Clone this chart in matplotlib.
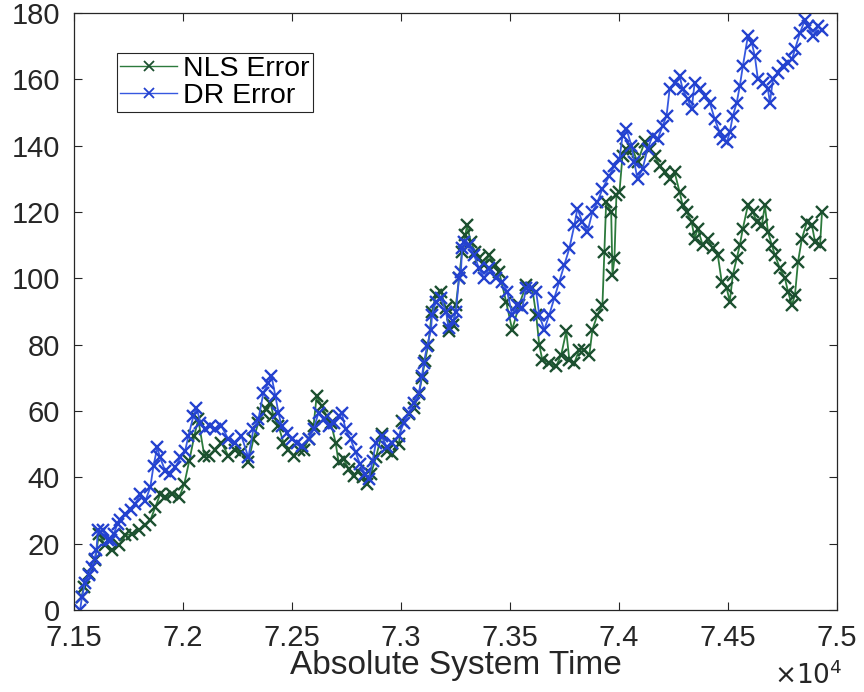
import matplotlib
matplotlib.use('Agg')
import matplotlib.pyplot as plt
import numpy as np

plt.rcParams['font.family'] = ['Liberation Sans', 'DejaVu Sans']

# DR error (blue)
dr_t = [71528, 71537, 71550, 71568, 71582, 71595, 71603, 71610, 71632, 71655,
        71669, 71683, 71700, 71713, 71735, 71760, 71780, 71805, 71828, 71850,
        71865, 71882, 71895, 71918, 71940, 71965, 71988, 72010, 72025, 72048,
        72062, 72080, 72103, 72126, 72148, 72176, 72208, 72240, 72268, 72300,
        72323, 72346, 72369, 72392, 72406, 72424, 72438, 72452, 72475, 72498,
        72521, 72544, 72576, 72599, 72622, 72645, 72668, 72691, 72714, 72728,
        72746, 72769, 72792, 72812, 72835, 72852, 72870, 72885, 72912, 72935,
        72958, 72990, 73013, 73036, 73059, 73082, 73096, 73105, 73119, 73138,
        73142, 73160, 73183, 73206, 73220, 73240, 73252, 73266, 73275, 73280,
        73289, 73312, 73335, 73358, 73381, 73404, 73436, 73464, 73487, 73510,
        73533, 73556, 73574, 73597, 73620, 73634, 73657, 73680, 73703, 73726,
        73749, 73772, 73795, 73809, 73832, 73855, 73878, 73901, 73924, 73956,
        73979, 74002, 74016, 74034, 74057, 74070, 74085, 74108, 74131, 74154,
        74177, 74200, 74218, 74232, 74255, 74278, 74292, 74315, 74333, 74347,
        74370, 74393, 74416, 74439, 74462, 74476, 74494, 74508, 74522, 74540,
        74554, 74568, 74591, 74609, 74623, 74637, 74660, 74683, 74692, 74706,
        74729, 74752, 74775, 74793, 74807, 74830, 74853, 74867, 74890, 74913,
        74931]
dr_err = [0, 4, 8, 10.5, 13, 15.5, 18, 24, 24, 21,
          21, 23, 26, 27, 29, 30, 32, 35, 33, 37,
          43.5, 49, 46, 42, 41, 43, 46, 48, 52.5, 58.5,
          61, 56.5, 54.5, 55.5, 54.5, 55.5, 51.5, 50.5, 52.5, 46,
          54.5, 57.5, 65.5, 68.5, 70.5, 64.5, 59.5, 55.5, 53.5, 51.5,
          50.5, 49.5, 51.5, 54.5, 59.5, 57.5, 55.5, 56.5, 58.5, 59.5,
          54.5, 51.5, 47.5, 44, 41, 39.5, 45, 50.5, 52.5, 49,
          50.5, 52.5, 56.5, 59.5, 62.5, 65.5, 70.5, 74.5, 79.5, 84.5,
          89, 93, 94, 90, 85, 87, 90, 100, 102, 109,
          111, 110, 107, 103, 100, 103, 100, 99, 96, 89,
          92, 91, 97, 97, 96, 89, 84.5, 89, 94, 99,
          104, 109, 116, 121, 117, 114, 120, 123, 127, 131,
          134, 136, 143, 145, 140, 135, 130, 133, 139, 143,
          142, 146, 149, 157, 159, 161, 157, 154, 151, 159,
          157, 155, 153, 148, 144, 142, 141, 144, 149, 153,
          158, 164, 173, 171, 167, 160, 159, 157, 153, 160,
          162, 164, 165, 166, 169, 174, 178, 176, 173, 176,
          175]

# NLS error (green)
nls_t = [71535, 71546, 71569, 71597, 71615, 71642, 71675, 71707, 71735, 71767,
         71799, 71827, 71850, 71873, 71896, 71919, 71951, 71983, 72006, 72029,
         72052, 72070, 72098, 72121, 72148, 72176, 72208, 72240, 72268, 72300,
         72323, 72346, 72369, 72383, 72401, 72415, 72438, 72461, 72484, 72507,
         72530, 72553, 72576, 72599, 72613, 72636, 72659, 72678, 72700, 72714,
         72737, 72760, 72783, 72805, 72828, 72845, 72862, 72885, 72912, 72935,
         72958, 72990, 73004, 73036, 73059, 73082, 73096, 73110, 73125, 73142,
         73160, 73183, 73206, 73220, 73240, 73252, 73266, 73280, 73295, 73303,
         73320, 73340, 73360, 73381, 73404, 73430, 73450, 73482, 73510, 73542,
         73574, 73602, 73620, 73634, 73648, 73680, 73712, 73735, 73758, 73772,
         73795, 73818, 73841, 73864, 73878, 73901, 73924, 73933, 73941, 73964,
         73970, 73979, 73988, 74002, 74016, 74034, 74062, 74085, 74117, 74140,
         74163, 74186, 74209, 74232, 74255, 74278, 74292, 74310, 74333, 74347,
         74361, 74384, 74407, 74430, 74453, 74471, 74494, 74508, 74522, 74540,
         74554, 74568, 74591, 74614, 74632, 74655, 74669, 74683, 74701, 74715,
         74738, 74761, 74775, 74793, 74807, 74821, 74839, 74862, 74885, 74899,
         74922, 74931]
nls_err = [4, 7, 11, 15, 23, 19.5, 18, 19.5, 22.5, 23,
           24, 25.5, 27, 31, 35, 34, 35, 34, 38, 45,
           52.5, 57.5, 46.5, 46.5, 48.3, 50.5, 46.5, 48.3, 47.5, 44.5,
           51.5, 56.5, 59.5, 60.5, 62.5, 58.5, 55.5, 50.5, 48.3, 46.5,
           48.3, 48.3, 51.5, 55.5, 64.5, 61.5, 58.5, 56.5, 50.5, 44.5,
           45.5, 42.5, 40.5, 42, 40, 38, 41, 46, 53, 48,
           47, 50, 57, 59, 61, 65, 70, 75, 80, 90,
           95, 96, 91, 84, 86, 92, 100, 108, 113, 116,
           111, 108, 106, 104, 107, 104, 102, 93, 84.5, 92,
           98, 97, 89, 80, 75.5, 74.5, 73.5, 77, 84, 75.5,
           74.5, 78.5, 78.5, 77, 84.5, 89, 92, 108, 123, 120,
           101, 106, 125, 126, 137, 139, 139, 135, 141, 139,
           137, 134, 132, 130, 132, 126, 122, 120, 117, 112,
           115, 110, 112, 109, 107, 99, 97, 93, 101, 106,
           110, 115, 122, 120, 117, 116, 122, 114, 110, 107,
           103, 100, 96, 92, 95, 105, 112, 117, 116, 111,
           110, 120]

xtick_vals = [7.15, 7.2, 7.25, 7.3, 7.35, 7.4, 7.45, 7.5]
xtick_text = ['7.15', '7.2', '7.25', '7.3', '7.35', '7.4', '7.45', '7.5']

fig = plt.figure(figsize=(8.64, 6.92), dpi=100)
ax = fig.add_axes([0.0856, 0.1185, 0.8832, 0.8627])

ax.plot(np.array(nls_t) / 1e4, nls_err, color='#2c7a3c', lw=1.3, marker='x',
        ms=9, mew=1.7, mec='#1c5030', label='NLS Error')
ax.plot(np.array(dr_t) / 1e4, dr_err, color='#3658e0', lw=1.3, marker='x',
        ms=9, mew=1.7, mec='#2442cf', label='DR Error')

ax.set_xlim(7.15, 7.5)
ax.set_ylim(0, 180)
ax.set_xticks(xtick_vals)
ax.set_xticklabels(xtick_text)
ax.set_yticks(range(0, 181, 20))
ax.tick_params(direction='in', length=6, width=0.8, top=True, right=True,
               labelsize=21, colors='#262626')
ax.tick_params(axis='x', pad=10)
ax.tick_params(axis='y', pad=10)
for s in ax.spines.values():
    s.set_color('#262626')
    s.set_linewidth(0.9)

ax.set_xlabel('Absolute System Time', fontsize=24, color='#262626', labelpad=-1)
fig.text(843 / 864, 0.004, r'$\times10^4$', ha='right', va='bottom',
         fontsize=19, color='#262626')

leg = ax.legend(loc='upper left', bbox_to_anchor=(0.056, 0.933), borderaxespad=0,
                fontsize=20.5, fancybox=False, edgecolor='#262626', framealpha=1,
                handlelength=2.0, handletextpad=0.2, borderpad=0.12,
                labelspacing=0.02)
leg.get_frame().set_linewidth(0.8)
for h in leg.get_lines():
    h.set_markersize(7)
    h.set_markeredgewidth(1.3)
    h.set_linewidth(1.0)

fig.savefig('out.png', dpi=100)
